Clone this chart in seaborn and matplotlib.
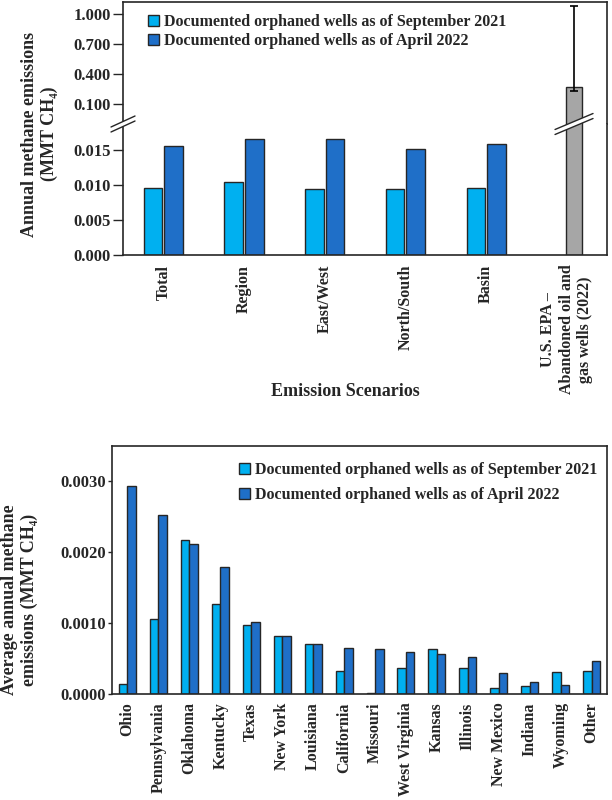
import numpy as np
import pandas as pd
import matplotlib
matplotlib.use("Agg")
import matplotlib.pyplot as plt
from matplotlib.lines import Line2D
from matplotlib.patches import Polygon
from matplotlib import transforms
import seaborn as sns

# --- data ---
scenarios = ["Total", "Region", "East/West", "North/South", "Basin"]
epa_label = "U.S. EPA \u2013\nAbandoned oil and\ngas wells (2022)"
sep2021 = [0.0095, 0.0104, 0.0094, 0.0094, 0.0096]
apr2022 = [0.0155, 0.0166, 0.0165, 0.0151, 0.0159]
epa_value = 0.27
epa_low = 0.23
epa_high = 1.08

states = ["Ohio", "Pennsylvania", "Oklahoma", "Kentucky", "Texas", "New York",
          "Louisiana", "California", "Missouri", "West Virginia", "Kansas",
          "Illinois", "New Mexico", "Indiana", "Wyoming", "Other"]
state_sep2021 = [0.00014, 0.00106, 0.00218, 0.00127, 0.00098, 0.00082, 0.00070, 0.00033,
                 0.00002, 0.00037, 0.00064, 0.00037, 0.00008, 0.00011, 0.00031, 0.00032]
state_apr2022 = [0.00293, 0.00253, 0.00212, 0.00179, 0.00102, 0.00082, 0.00070, 0.00065,
                 0.00064, 0.00059, 0.00057, 0.00052, 0.00030, 0.00017, 0.00013, 0.00046]

lab_sep = "Documented orphaned wells as of September 2021"
lab_apr = "Documented orphaned wells as of April 2022"
palette = {lab_sep: "#00B0F0", lab_apr: "#1F6FC8"}
gray = "#A6A6A6"
edge = "#262626"

sns.set_theme(style="white")
plt.rcParams["font.family"] = ["Liberation Serif", "DejaVu Serif"]
plt.rcParams["font.weight"] = "bold"
plt.rcParams["axes.edgecolor"] = edge
plt.rcParams["axes.linewidth"] = 1.2

fig = plt.figure(figsize=(6.12, 8), dpi=100)
ax_hi = fig.add_axes([0.201, 0.845, 0.791, 0.1525])
ax_lo = fig.add_axes([0.201, 0.68125, 0.791, 0.16375])
ax_st = fig.add_axes([0.183, 0.1325, 0.809, 0.31])

# --- top chart: broken y axis ---
top_df = pd.DataFrame({
    "Scenario": scenarios * 2,
    "Series": [lab_sep] * len(scenarios) + [lab_apr] * len(scenarios),
    "Emissions": sep2021 + apr2022,
})
order = scenarios + [epa_label]
sns.barplot(data=top_df, x="Scenario", y="Emissions", hue="Series", order=order,
            palette=palette, saturation=1, width=0.51, gap=0.1, edgecolor=edge,
            linewidth=1, errorbar=None, ax=ax_lo)

epa_x = len(scenarios) + 0.09
ax_lo.bar(epa_x, epa_value, width=0.2, color=gray, edgecolor=edge, linewidth=1)
hi_floor = -0.3
ax_hi.bar(epa_x, epa_value - hi_floor, bottom=hi_floor, width=0.2, color=gray,
          edgecolor=edge, linewidth=1)
ax_hi.errorbar(epa_x, epa_value, yerr=[[epa_value - epa_low], [epa_high - epa_value]],
               fmt="none", ecolor="black", elinewidth=1.2, capsize=3, capthick=1.2)

for ax in (ax_hi, ax_lo):
    ax.set_xlim(-0.5, len(order) - 0.5)
ax_lo.set_ylim(0, 0.0187)
ax_lo.set_yticks([0, 0.005, 0.010, 0.015])
ax_lo.set_yticklabels([f"{v:.3f}" for v in [0, 0.005, 0.010, 0.015]])
ax_hi.set_ylim(-0.1, 1.12)
ax_hi.set_yticks([0.1, 0.4, 0.7, 1.0])
ax_hi.set_yticklabels([f"{v:.3f}" for v in [0.1, 0.4, 0.7, 1.0]])
ax_hi.set_xticks([])
ax_hi.spines["bottom"].set_visible(False)
ax_lo.spines["top"].set_visible(False)
ax_lo.set_xticks(range(len(order)))
ax_lo.set_xticklabels(order, rotation=90, ha="center", va="top",
                      multialignment="center", fontsize=11.5, fontweight="bold")
ax_lo.set_xlabel("")
ax_lo.set_ylabel("")
for ax in (ax_hi, ax_lo):
    ax.tick_params(axis="y", left=True, length=7, width=1, pad=2, labelsize=12,
                   color=edge)
ax_lo.tick_params(axis="x", length=0, pad=7)

handles, labels = ax_lo.get_legend_handles_labels()
ax_lo.get_legend().remove()
ax_hi.legend(handles, labels, loc="upper left", bbox_to_anchor=(0.052, 0.9),
             frameon=False, prop={"size": 11.5, "weight": "bold"},
             handlelength=0.7, handleheight=0.7, handletextpad=0.3,
             labelspacing=0.2, borderpad=0, borderaxespad=0)

fig.text(0.065, 0.8325, "Annual methane emissions\n(MMT CH\u2084)", rotation=90,
         ha="center", va="center", fontsize=13, fontweight="bold",
         multialignment="center")
fig.text(0.564, 0.51, "Emission Scenarios", ha="center", va="center",
         fontsize=13, fontweight="bold")


def break_mark(x_disp, y_disp, half_w, rise, sep):
    inv = fig.transFigure.inverted()
    a1 = inv.transform((x_disp - half_w, y_disp + sep / 2 - rise / 2))
    b1 = inv.transform((x_disp + half_w, y_disp + sep / 2 + rise / 2))
    a2 = inv.transform((x_disp - half_w, y_disp - sep / 2 - rise / 2))
    b2 = inv.transform((x_disp + half_w, y_disp - sep / 2 + rise / 2))
    fig.add_artist(Polygon([a1, b1, b2, a2], closed=True, transform=fig.transFigure,
                           facecolor="white", edgecolor="none", zorder=10))
    for p, q in ((a1, b1), (a2, b2)):
        fig.add_artist(Line2D([p[0], q[0]], [p[1], q[1]], transform=fig.transFigure,
                              color=edge, linewidth=1, zorder=11))


spine_pt = ax_lo.transAxes.transform((0, 1))
break_mark(spine_pt[0], spine_pt[1], 12, 11, 5)
bar_trans = transforms.blended_transform_factory(ax_lo.transData, ax_lo.transAxes)
bar_pt = bar_trans.transform((epa_x, 1))
break_mark(bar_pt[0], bar_pt[1], 19, 16, 5)

# --- bottom chart: states ---
state_df = pd.DataFrame({
    "State": states * 2,
    "Series": [lab_sep] * len(states) + [lab_apr] * len(states),
    "Emissions": state_sep2021 + state_apr2022,
})
sns.barplot(data=state_df, x="State", y="Emissions", hue="Series", order=states,
            palette=palette, saturation=1, width=0.55, gap=0, edgecolor=edge,
            linewidth=1, errorbar=None, ax=ax_st)
ax_st.set_xlim(-0.5, len(states) - 0.5)
ax_st.set_ylim(0, 0.0035)
st_ticks = [0, 0.001, 0.002, 0.003]
ax_st.set_yticks(st_ticks)
ax_st.set_yticklabels([f"{v:.4f}" for v in st_ticks])
ax_st.set_xticks(range(len(states)))
ax_st.set_xticklabels(states, rotation=90, ha="center", va="top",
                      fontsize=11.5, fontweight="bold")
ax_st.set_xlabel("")
ax_st.set_ylabel("")
ax_st.tick_params(axis="y", left=True, length=3, width=1, pad=1.5, labelsize=12,
                  color=edge)
ax_st.tick_params(axis="x", length=0, pad=6)
for ax in (ax_hi, ax_lo, ax_st):
    for lab in ax.get_yticklabels():
        lab.set_fontweight("bold")

handles, labels = ax_st.get_legend_handles_labels()
ax_st.legend(handles, labels, loc="upper left", bbox_to_anchor=(0.257, 0.935),
             frameon=False, prop={"size": 11.5, "weight": "bold"},
             handlelength=0.7, handleheight=0.7, handletextpad=0.3,
             labelspacing=0.55, borderpad=0, borderaxespad=0)

fig.text(0.032, 0.25, "Average annual methane\nemissions (MMT CH\u2084)", rotation=90,
         ha="center", va="center", fontsize=13, fontweight="bold",
         multialignment="center")

fig.savefig("out.png", dpi=100)
